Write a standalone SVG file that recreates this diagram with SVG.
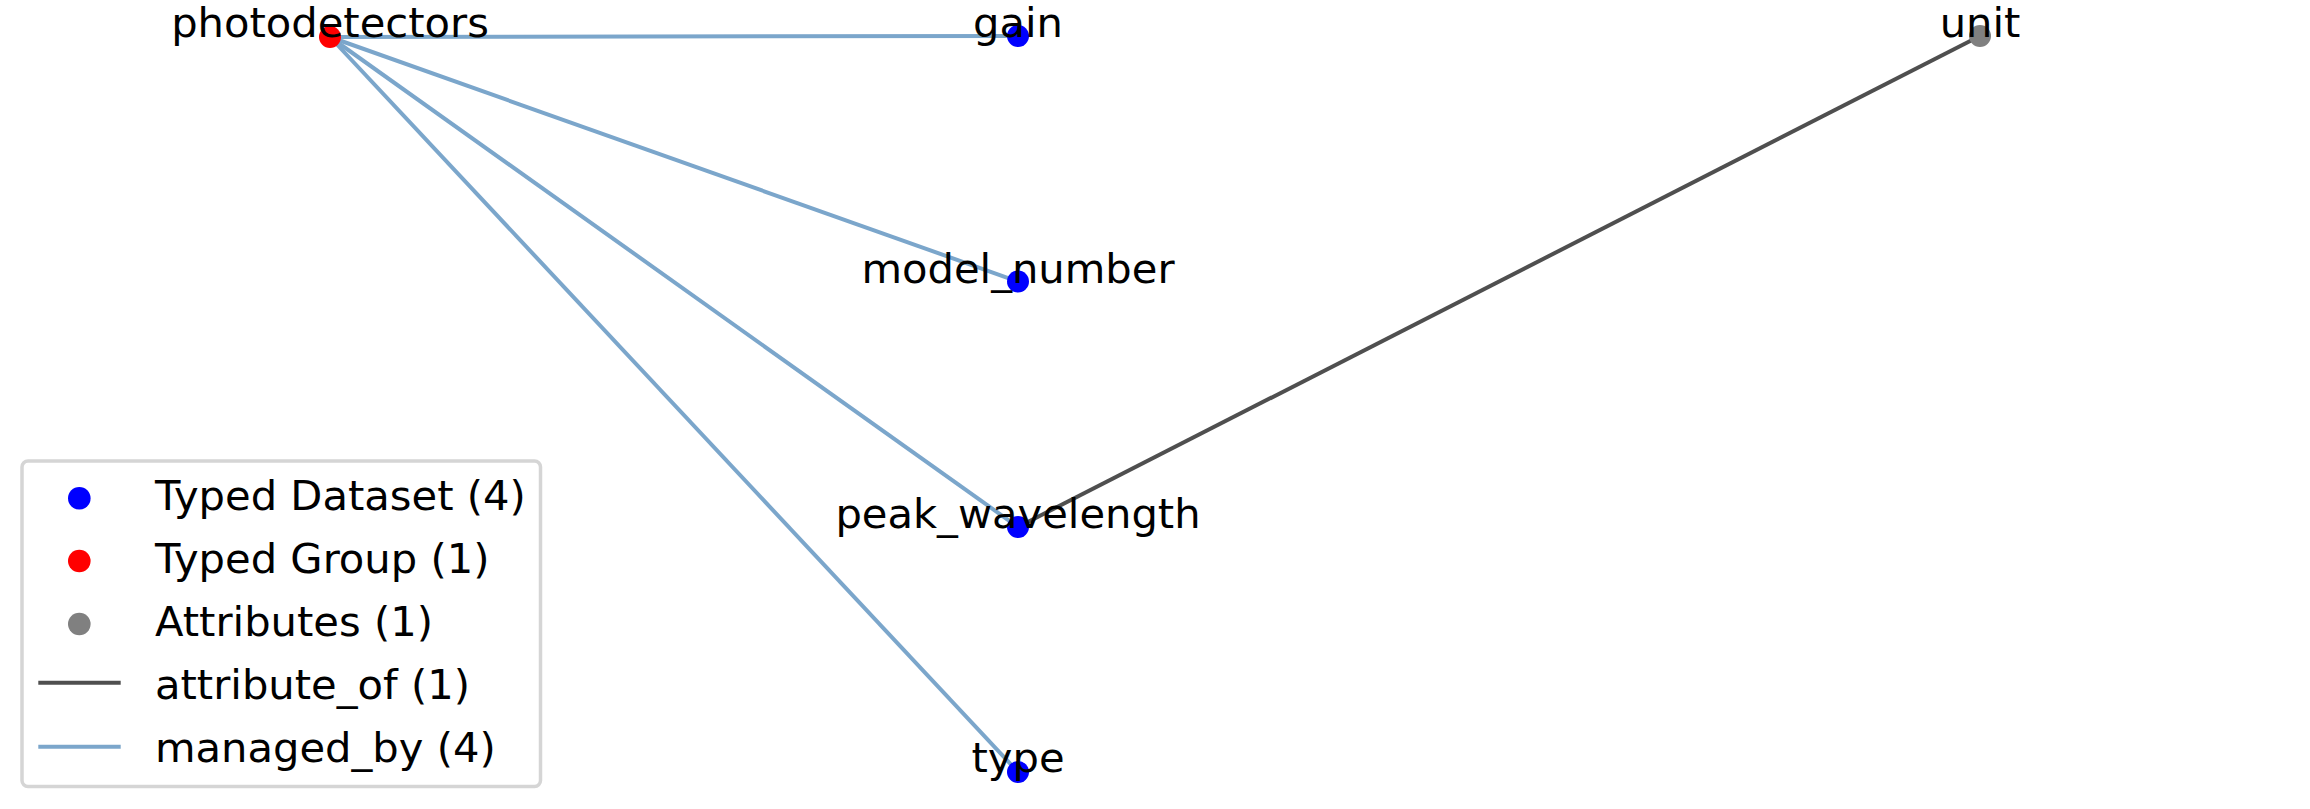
<svg xmlns="http://www.w3.org/2000/svg" width="2310" height="809" viewBox="0 0 2310 809">
<style>
text { font-family: "DejaVu Sans", sans-serif; fill: #000; }
.lbl { font-size: 41.67px; text-anchor: middle; }
.leg { font-size: 41.67px; }
.mb { stroke: #7BA6CB; stroke-width: 4; fill: none; }
.ao { stroke: #4F4F4F; stroke-width: 4; fill: none; }
.ds { fill: #0000FF; }
.gr { fill: #FF0000; }
.at { fill: #808080; }
</style>
<rect width="2310" height="809" fill="#fff"/>
<g id="connectors">
<line class="mb" x1="330" y1="37" x2="1018" y2="36"/>
<line class="mb" x1="330" y1="37" x2="1018" y2="281.5"/>
<line class="mb" x1="330" y1="37" x2="1018" y2="527"/>
<line class="mb" x1="330" y1="37" x2="1018" y2="772"/>
<line class="ao" x1="1018" y1="527" x2="1980" y2="36"/>
</g>
<g id="node-photodetectors"><circle class="gr" cx="330" cy="37" r="11"/><text class="lbl" x="330" y="37">photodetectors</text></g>
<g id="node-gain"><circle class="ds" cx="1018" cy="36" r="11"/><text class="lbl" x="1018" y="37">gain</text></g>
<g id="node-model_number"><circle class="ds" cx="1018" cy="281.5" r="11"/><text class="lbl" x="1018" y="282.5">model_number</text></g>
<g id="node-peak_wavelength"><circle class="ds" cx="1018" cy="527" r="11"/><text class="lbl" x="1018" y="528">peak_wavelength</text></g>
<g id="node-type"><circle class="ds" cx="1018" cy="772" r="11"/><text class="lbl" x="1018" y="772">type</text></g>
<g id="node-unit"><circle class="at" cx="1980" cy="36" r="11"/><text class="lbl" x="1980" y="37">unit</text></g>
<g id="legend">
<rect x="22" y="461" width="518.5" height="325.5" rx="6" fill="#fff" stroke="#D5D5D5" stroke-width="3.5"/>
<circle class="ds" cx="79.3" cy="498.3" r="11.3"/>
<circle class="gr" cx="79.3" cy="561" r="11.3"/>
<circle class="at" cx="79.3" cy="624" r="11.3"/>
<line class="ao" x1="38.3" y1="682.7" x2="120.7" y2="682.7"/>
<line class="mb" x1="38.3" y1="746.7" x2="120.7" y2="746.7"/>
<text class="leg" x="155" y="510">Typed Dataset (4)</text>
<text class="leg" x="155" y="573">Typed Group (1)</text>
<text class="leg" x="155" y="636">Attributes (1)</text>
<text class="leg" x="155" y="699">attribute_of (1)</text>
<text class="leg" x="155" y="761.5">managed_by (4)</text>
</g>
</svg>
